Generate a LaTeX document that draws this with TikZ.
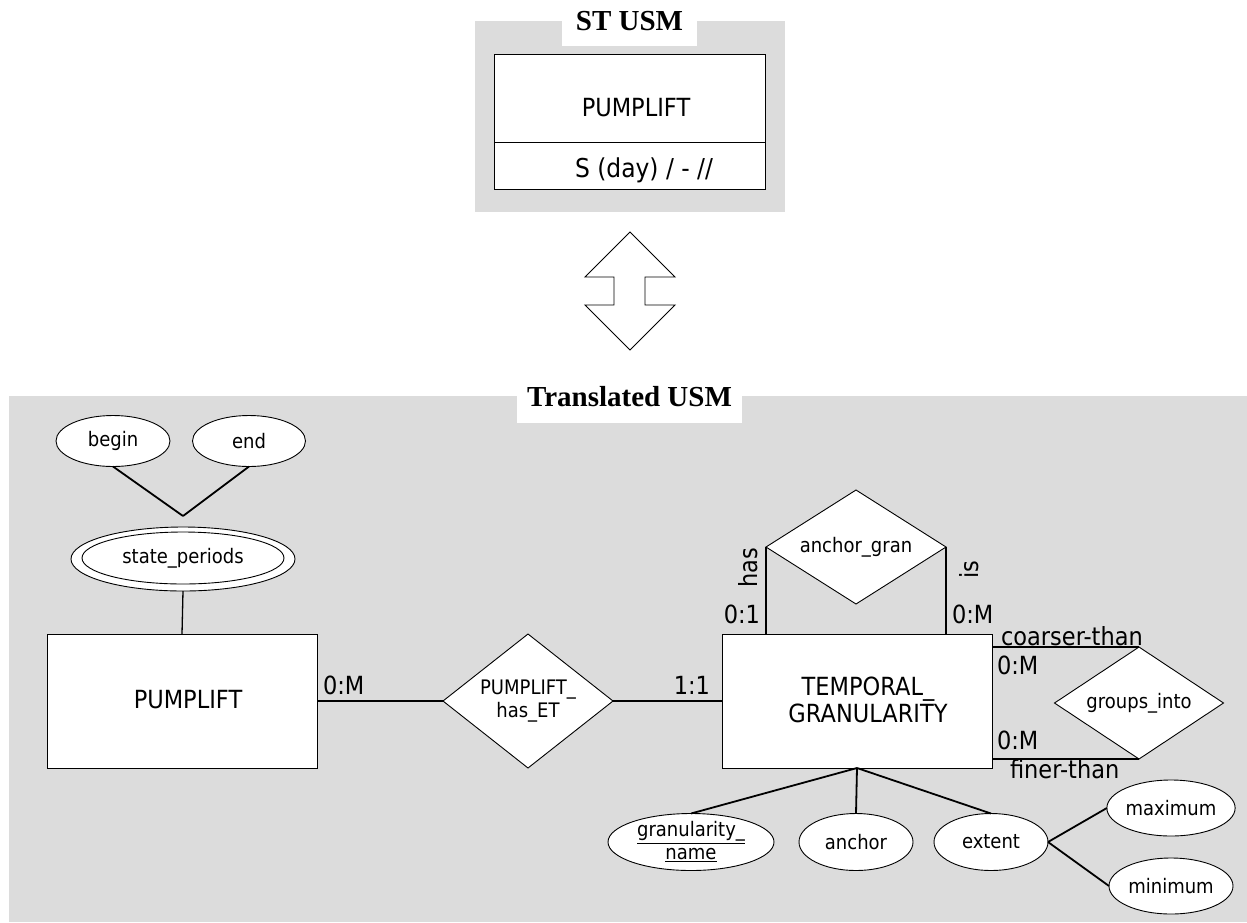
\documentclass[tikz,border=0pt]{standalone}
\usepackage{fontspec}
\setmainfont{DejaVu Sans}[FakeStretch=0.9]
\newfontfamily\titlefont{Liberation Serif}
\usetikzlibrary{shapes.geometric}
\definecolor{panel}{RGB}{220,220,220}

\begin{document}
\begin{tikzpicture}[x=1pt,y=-1pt,
  every node/.style={inner sep=0pt, outer sep=0pt},
  big/.style={font=\fontsize{25}{27}\selectfont},
  small/.style={font=\fontsize{20}{23}\selectfont},
  title/.style={font=\titlefont\bfseries\fontsize{29}{31}\selectfont},
  entity/.style={draw, fill=white, line width=0.9pt, rectangle},
  attr/.style={draw, fill=white, line width=0.9pt, ellipse, small},
  rel/.style={draw, fill=white, line width=0.9pt, diamond, shape aspect=1.5, small, align=center},
  conn/.style={line width=1.3pt},
  attrconn/.style={line width=1.8pt},
  card/.style={big}]

\useasboundingbox (0,0) rectangle (1247,922);

% ---------- ST USM panel ----------
\fill[panel] (475,21) rectangle (785,212);
\fill[white] (562,0) rectangle (697,46);
\node[title] (st-title) at (629.5,21) {ST USM};
\node[entity, minimum width=271pt, minimum height=88pt] (st-head) at (629.5,98) {};
\node[entity, minimum width=271pt, minimum height=47pt] (st-body) at (629.5,165.5) {};
\node[big, anchor=base] (st-name) at (636,116) {PUMPLIFT};
\node[font=\fontsize{26}{28}\selectfont, anchor=base] (st-time) at (644,177) {S (day) / - //};

% ---------- translation arrow ----------
\draw[line width=0.9pt, fill=white]
  (630,232) -- (675,277) -- (645,277) -- (645,305) -- (675,305) -- (630,350)
  -- (585,305) -- (614,305) -- (614,277) -- (585,277) -- cycle;

% ---------- Translated USM panel ----------
\fill[panel] (9,396) rectangle (1247,922);
\fill[white] (517,396) rectangle (742,423);
\node[title] (tr-title) at (629.5,397) {Translated USM};

% entities
\node[entity, minimum width=270pt, minimum height=134pt] (pl) at (182,701) {};
\node[big, anchor=base] (pl-name) at (188,708) {PUMPLIFT};
\node[entity, minimum width=270pt, minimum height=134pt] (tg) at (857,701) {};
\node[big, align=center] (tg-name) at (868,700) {TEMPORAL\_\\GRANULARITY};

% relationships
\node[rel, minimum width=170pt, minimum height=134pt] (pe) at (528,701) {PUMPLIFT\_\\has\_ET};
\node[rel, minimum width=180pt, minimum height=114pt] (ag) at (856,547) {anchor\_gran};
\node[rel, minimum width=169pt, minimum height=112pt] (gi) at (1139,703) {groups\_into};

% attributes
\node[attr, minimum width=114pt, minimum height=51pt] (bg) at (113,441) {begin};
\node[attr, minimum width=113pt, minimum height=51pt] (en) at (249,441) {end};
\node[attr, minimum width=224pt, minimum height=64pt] (sp) at (183,559) {};
\node[attr, minimum width=202pt, minimum height=52pt] (sp-in) at (183,558) {state\_periods};
\coordinate (sp-join) at (183,516);
\node[attr, minimum width=166pt, minimum height=57pt] (gn) at (691,842) {};
\node[small, align=center] (gn-name) at (691,842) {\underline{granularity\_}\\\underline{name}};
\node[attr, minimum width=114pt, minimum height=57pt] (an) at (856,842) {anchor};
\node[attr, minimum width=114pt, minimum height=57pt] (ex) at (991,842) {extent};
\node[attr, minimum width=124pt, minimum height=56pt] (mx) at (1171,808) {maximum};
\node[attr, minimum width=124pt, minimum height=56pt] (mn) at (1171,886) {minimum};

% connectors
\draw[attrconn] (bg.south) -- (sp-join);
\draw[attrconn] (en.south) -- (sp-join);
\draw[conn] (sp.south) -- (pl.north);
\draw[conn] (pl.east) -- (pe.west);
\draw[conn] (pe.east) -- (tg.west);
\draw[conn] (ag.west) -- (ag.west |- tg.north);
\draw[conn] (ag.east) -- (ag.east |- tg.north);
\draw[conn] (gi.north) -- (gi.north -| tg.east);
\draw[conn] (gi.south) -- (gi.south -| tg.east);
\draw[attrconn] (tg.south) -- (gn.north);
\draw[attrconn] (tg.south) -- (an.north);
\draw[attrconn] (tg.south) -- (ex.north);
\draw[attrconn] (ex.east) -- (mx.west);
\draw[attrconn] (ex.east) -- (mn.west);

% cardinalities and role names
\node[card, anchor=base west] (c-pl) at (323,694) {0:M};
\node[card, anchor=base east] (c-tg) at (710,694) {1:1};
\node[card, anchor=base east] (c-has) at (760,623) {0:1};
\node[card, anchor=base west] (c-is) at (952,623) {0:M};
\node[card, rotate=90] (r-has) at (748,568) {has};
\node[card, rotate=90] (r-is) at (969,570) {is};
\node[card, anchor=base west] (r-coarse) at (1001,645) {coarser-than};
\node[card, anchor=base west] (c-coarse) at (997,674) {0:M};
\node[card, anchor=base west] (c-fine) at (997,749) {0:M};
\node[card, anchor=base west] (r-fine) at (1010,778) {finer-than};
\end{tikzpicture}
\end{document}
